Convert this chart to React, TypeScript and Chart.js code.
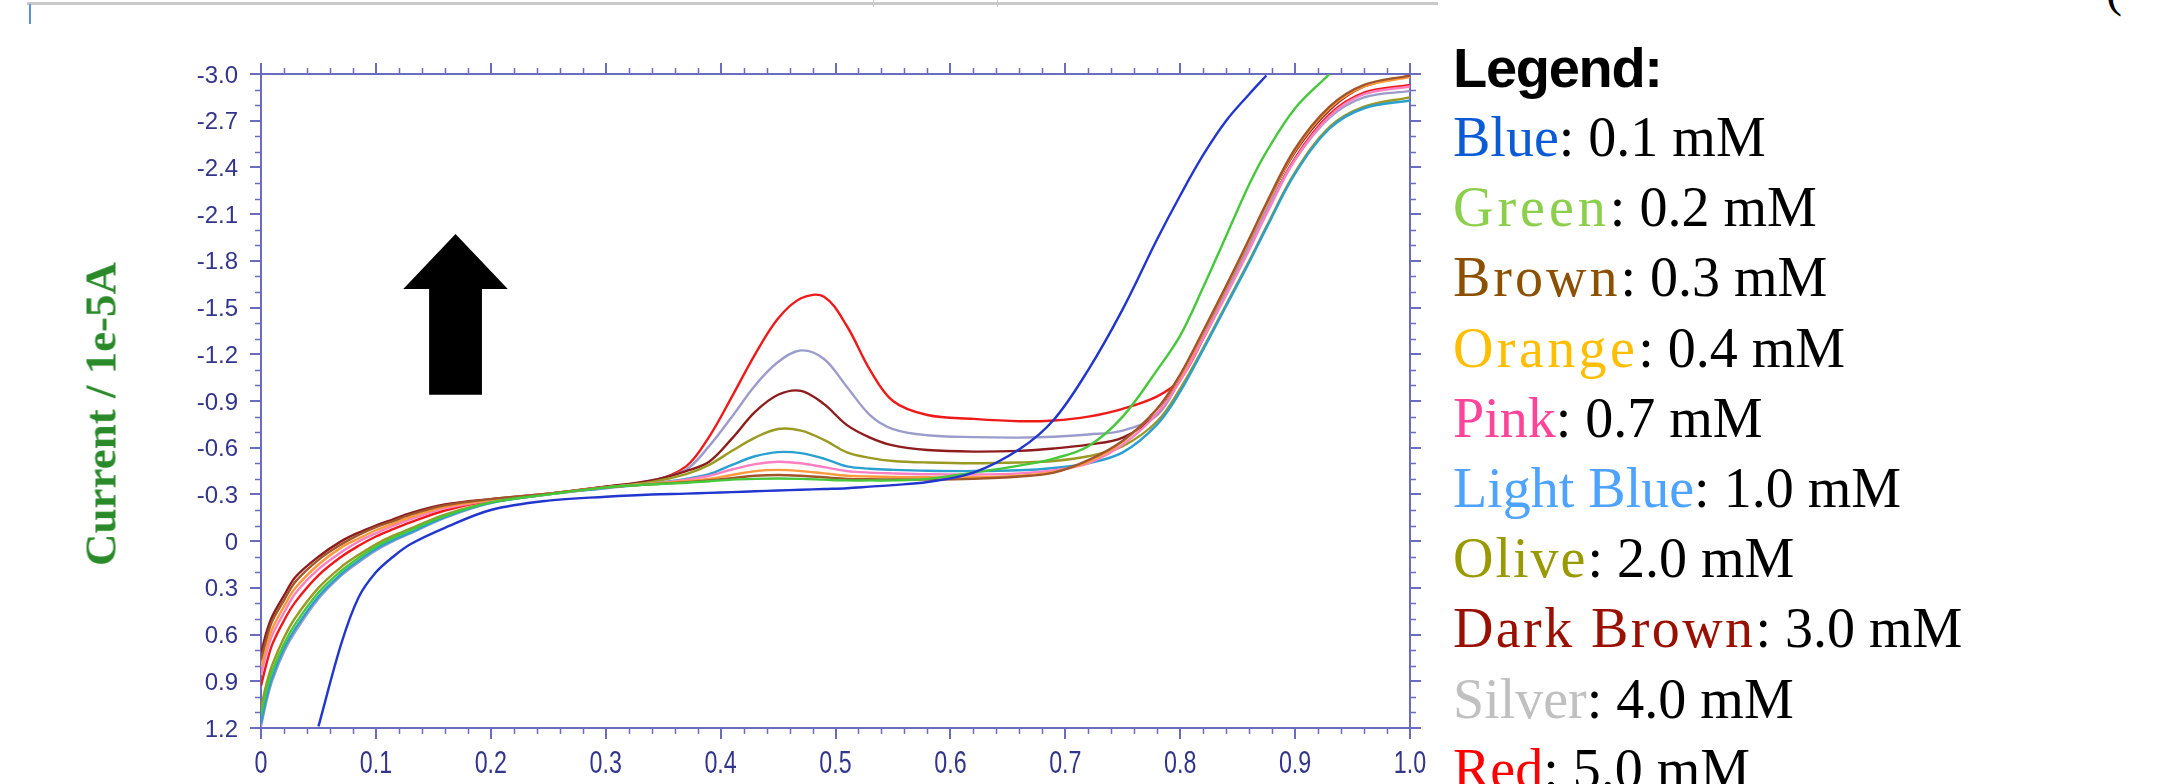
import React, { useEffect, useRef } from 'react';
import { Chart, registerables } from 'chart.js';

Chart.register(...registerables);

// Potential (x axis, V)
const potentials = [
  0, 0.005, 0.01, 0.02, 0.03, 0.05, 0.07, 0.085, 0.1, 0.115, 0.13, 0.16, 0.2, 0.25, 0.3,
  0.34, 0.37, 0.39, 0.41, 0.43, 0.45, 0.47, 0.49, 0.51, 0.53, 0.55, 0.58, 0.62,
  0.66, 0.69, 0.72, 0.75, 0.78, 0.8, 0.82, 0.84, 0.86, 0.875, 0.9, 0.93, 0.96, 1.0,
];

// Current / 1e-5 A, one list per concentration
const blue = [
  null, null, null, null, null, 1.19, 0.655, 0.36, 0.2, 0.1, 0.02, -0.085, -0.2, -0.26, -0.285,
  -0.3, -0.305, -0.31, -0.315, -0.32, -0.325, -0.33, -0.335, -0.34, -0.35, -0.36, -0.38, -0.44,
  -0.59, -0.78, -1.1, -1.49, -1.94, -2.22, -2.48, -2.7, -2.87, -2.99, null, null, null, null,
];
const green = [
  1.12, 0.95, 0.83, 0.66, 0.53, 0.33, 0.19, 0.107, 0.035, -0.021, -0.07, -0.163, -0.249, -0.3, -0.345,
  -0.365, -0.375, -0.385, -0.395, -0.4, -0.402, -0.4, -0.395, -0.39, -0.39, -0.39, -0.4, -0.44,
  -0.485, -0.53, -0.61, -0.8, -1.1, -1.32, -1.63, -1.96, -2.29, -2.5, -2.78, -3.0, null, null,
];
const brown = [
  0.76, 0.62, 0.51, 0.38, 0.26, 0.12, 0.02, -0.04, -0.09, -0.129, -0.17, -0.23, -0.27, -0.305, -0.345,
  -0.365, -0.378, -0.39, -0.405, -0.42, -0.425, -0.42, -0.41, -0.4, -0.398, -0.396, -0.395, -0.4,
  -0.415, -0.44, -0.52, -0.645, -0.85, -1.07, -1.35, -1.64, -1.94, -2.17, -2.52, -2.79, -2.93, -2.99,
];
const orange = [
  0.81, 0.67, 0.56, 0.42, 0.3, 0.15, 0.04, -0.017, -0.07, -0.112, -0.155, -0.22, -0.265, -0.304, -0.345,
  -0.37, -0.385, -0.4, -0.425, -0.45, -0.458, -0.45, -0.435, -0.42, -0.415, -0.412, -0.41, -0.41,
  -0.42, -0.445, -0.51, -0.64, -0.85, -1.06, -1.34, -1.63, -1.93, -2.16, -2.51, -2.78, -2.92, -2.98,
];
const pink = [
  0.86, 0.71, 0.6, 0.46, 0.335, 0.18, 0.07, 0.002, -0.05, -0.098, -0.14, -0.21, -0.263, -0.303, -0.345,
  -0.37, -0.395, -0.42, -0.46, -0.495, -0.51, -0.5, -0.475, -0.45, -0.44, -0.435, -0.43, -0.428,
  -0.435, -0.455, -0.5, -0.62, -0.82, -1.03, -1.3, -1.58, -1.87, -2.1, -2.45, -2.73, -2.87, -2.92,
];
const lightBlue = [
  1.17, 1.0, 0.87, 0.69, 0.56, 0.355, 0.21, 0.125, 0.05, -0.007, -0.055, -0.155, -0.246, -0.3, -0.34,
  -0.37, -0.4, -0.43, -0.49, -0.545, -0.572, -0.565, -0.53, -0.48, -0.465, -0.458, -0.452, -0.45,
  -0.455, -0.47, -0.5, -0.57, -0.75, -0.96, -1.23, -1.51, -1.79, -2.01, -2.36, -2.65, -2.78, -2.83,
];
const olive = [
  1.07, 0.91, 0.79, 0.62, 0.49, 0.3, 0.165, 0.088, 0.02, -0.035, -0.08, -0.17, -0.25, -0.301, -0.345,
  -0.38, -0.43, -0.49, -0.58, -0.665, -0.72, -0.71, -0.65, -0.57, -0.535, -0.515, -0.505, -0.5,
  -0.505, -0.515, -0.545, -0.61, -0.77, -0.98, -1.24, -1.52, -1.8, -2.02, -2.37, -2.66, -2.79, -2.85,
];
const darkBrown = [
  0.72, 0.58, 0.48, 0.35, 0.23, 0.1, 0.0, -0.055, -0.1, -0.14, -0.18, -0.235, -0.27, -0.305, -0.35,
  -0.39, -0.45, -0.51, -0.66, -0.83, -0.94, -0.965, -0.88, -0.745, -0.665, -0.615, -0.585, -0.575,
  -0.58, -0.595, -0.62, -0.665, -0.82, -1.06, -1.34, -1.63, -1.93, -2.16, -2.5, -2.77, -2.92, -2.99,
];
const silver = [
  1.19, 1.02, 0.89, 0.71, 0.58, 0.37, 0.22, 0.135, 0.06, 0.0, -0.05, -0.15, -0.245, -0.3, -0.345,
  -0.39, -0.46, -0.61, -0.8, -1.0, -1.15, -1.225, -1.17, -0.99, -0.81, -0.72, -0.68, -0.668,
  -0.665, -0.67, -0.685, -0.71, -0.81, -1.04, -1.32, -1.6, -1.89, -2.12, -2.45, -2.72, -2.85, -2.89,
];
const red = [
  0.93, 0.78, 0.66, 0.51, 0.39, 0.22, 0.1, 0.03, -0.03, -0.077, -0.12, -0.197, -0.26, -0.303, -0.35,
  -0.385, -0.48, -0.67, -0.93, -1.2, -1.43, -1.56, -1.57, -1.38, -1.1, -0.9, -0.81, -0.785,
  -0.77, -0.775, -0.8, -0.85, -0.93, -1.04, -1.3, -1.6, -1.89, -2.12, -2.46, -2.74, -2.88, -2.93,
];

const legendNames = ['Blue', 'Green', 'Brown', 'Orange', 'Pink', 'Light Blue', 'Olive', 'Dark Brown', 'Silver', 'Red'];
const concentrations = ['0.1 mM', '0.2 mM', '0.3 mM', '0.4 mM', '0.7 mM', '1.0 mM', '2.0 mM', '3.0 mM', '4.0 mM', '5.0 mM'];
const seriesValues = [blue, green, brown, orange, pink, lightBlue, olive, darkBrown, silver, red];
const lineColors = ['#2136cf', '#45c83a', '#a0562a', '#ff9a3c', '#ff7fc0', '#2a9fd0', '#9a9a22', '#8e1c1c', '#9c9ccc', '#ee1a1a'];
const textColors = ['#0b5bd7', '#8ccf4d', '#8b5000', '#ffbf00', '#ff4499', '#4da3ff', '#999900', '#990f00', '#c0c0c0', '#ff0000'];
const nameSpacing = ['0px', '4px', '3px', '3.4px', '0px', '0px', '2px', '2.4px', '0px', '0px'];

const xTicks = [0, 0.1, 0.2, 0.3, 0.4, 0.5, 0.6, 0.7, 0.8, 0.9, 1.0];
const yTicks = [-3.0, -2.7, -2.4, -2.1, -1.8, -1.5, -1.2, -0.9, -0.6, -0.3, 0, 0.3, 0.6, 0.9, 1.2];

// decorative arrow, in data units
const arrowX = 0.1693;
const arrowTip = -1.972;
const arrowHeadBase = -1.619;
const arrowBottom = -0.94;
const arrowHeadHalf = 0.0455;
const arrowShaftHalf = 0.023;

const AXIS = '#6a6dbf';
const LABEL = '#33358a';

const fmt = (v: number) => (Math.abs(v) < 1e-9 ? '0' : v.toFixed(1));

const decorPlugin = {
  id: 'decor',
  afterDraw(chart: any) {
    const { ctx, chartArea: a, scales } = chart;
    const xs = scales.x;
    const ys = scales.y;
    ctx.save();
    // minor ticks
    ctx.strokeStyle = AXIS;
    ctx.lineWidth = 1.5;
    ctx.beginPath();
    for (let i = 1; i < 50; i++) {
      if (i % 5 === 0) continue;
      const px = Math.round(xs.getPixelForValue(i * 0.02)) + 0.5;
      ctx.moveTo(px, a.bottom);
      ctx.lineTo(px, a.bottom + 6);
      ctx.moveTo(px, a.top);
      ctx.lineTo(px, a.top - 6);
    }
    for (let i = 1; i < 42; i++) {
      if (i % 3 === 0) continue;
      const py = Math.round(ys.getPixelForValue(-3 + i * 0.1)) + 0.5;
      ctx.moveTo(a.left, py);
      ctx.lineTo(a.left - 6, py);
      ctx.moveTo(a.right, py);
      ctx.lineTo(a.right + 6, py);
    }
    ctx.stroke();

    // x tick labels (narrow lettering as in the original)
    ctx.fillStyle = LABEL;
    ctx.font = '31px "Liberation Sans", Arial, sans-serif';
    ctx.textAlign = 'center';
    ctx.textBaseline = 'alphabetic';
    xs.ticks.forEach((t: any) => {
      const px = xs.getPixelForValue(t.value);
      ctx.save();
      ctx.translate(px, a.bottom + 45);
      ctx.scale(0.75, 1);
      ctx.fillText(fmt(t.value), 0, 0);
      ctx.restore();
    });

    // big black arrow
    const cx = xs.getPixelForValue(arrowX);
    const hl = xs.getPixelForValue(arrowX - arrowHeadHalf);
    const hr = xs.getPixelForValue(arrowX + arrowHeadHalf);
    const sl = xs.getPixelForValue(arrowX - arrowShaftHalf);
    const sr = xs.getPixelForValue(arrowX + arrowShaftHalf);
    const ty = ys.getPixelForValue(arrowTip);
    const by = ys.getPixelForValue(arrowHeadBase);
    const bot = ys.getPixelForValue(arrowBottom);
    ctx.fillStyle = '#000';
    ctx.beginPath();
    ctx.moveTo(cx, ty);
    ctx.lineTo(hr, by);
    ctx.lineTo(sr, by);
    ctx.lineTo(sr, bot);
    ctx.lineTo(sl, bot);
    ctx.lineTo(sl, by);
    ctx.lineTo(hl, by);
    ctx.closePath();
    ctx.fill();
    ctx.restore();
  },
};

const CANVAS_W = 1440;
const CANVAS_H = 784;

function VoltammogramChart() {
  const ref = useRef<HTMLCanvasElement | null>(null);
  useEffect(() => {
    if (!ref.current) return;
    const gridOpts = {
      drawOnChartArea: false,
      drawTicks: true,
      tickLength: 11,
      color: AXIS,
      tickColor: AXIS,
      lineWidth: 2,
      tickWidth: 2,
    };
    const border = { display: true, color: AXIS, width: 2 };
    const setX = (s: any) => {
      s.ticks = xTicks.map((v) => ({ value: v }));
    };
    const setY = (s: any) => {
      s.ticks = yTicks.map((v) => ({ value: v }));
    };
    const chart = new Chart(ref.current, {
      type: 'line',
      data: {
        datasets: seriesValues.map((vals, k) => ({
          label: legendNames[k],
          data: potentials.map((x, i) => ({ x, y: vals[i] })),
          borderColor: lineColors[k],
          backgroundColor: lineColors[k],
          borderWidth: 2.4,
          pointRadius: 0,
          fill: false,
          tension: 0.35,
          spanGaps: false,
        })),
      },
      options: {
        animation: false,
        responsive: false,
        devicePixelRatio: 1,
        layout: { padding: 0 },
        plugins: {
          legend: { display: false },
          tooltip: { enabled: false },
          title: { display: false },
        },
        scales: {
          x: {
            type: 'linear',
            position: 'bottom',
            min: 0,
            max: 1,
            afterBuildTicks: setX,
            afterFit: (s: any) => {
              s.height = 56;
            },
            ticks: { display: false },
            grid: gridOpts,
            border,
          },
          x2: {
            type: 'linear',
            position: 'top',
            min: 0,
            max: 1,
            afterBuildTicks: setX,
            afterFit: (s: any) => {
              s.height = 74;
            },
            ticks: { display: false },
            grid: gridOpts,
            border,
          },
          y: {
            type: 'linear',
            position: 'left',
            reverse: true,
            min: -3.0,
            max: 1.2,
            afterBuildTicks: setY,
            afterFit: (s: any) => {
              s.width = 261;
            },
            ticks: {
              display: true,
              color: LABEL,
              padding: 12,
              labelOffset: 2,
              font: { family: '"Liberation Sans", Arial, sans-serif', size: 24 },
              callback: (v: any) => fmt(Number(v)),
            },
            grid: gridOpts,
            border,
          },
          y2: {
            type: 'linear',
            position: 'right',
            reverse: true,
            min: -3.0,
            max: 1.2,
            afterBuildTicks: setY,
            afterFit: (s: any) => {
              s.width = CANVAS_W - 1410;
            },
            ticks: { display: false },
            grid: gridOpts,
            border,
          },
        },
      } as any,
      plugins: [decorPlugin],
    });
    return () => chart.destroy();
  }, []);
  return (
    <canvas
      ref={ref}
      width={CANVAS_W}
      height={CANVAS_H}
      style={{ position: 'absolute', left: 0, top: 0, width: CANVAS_W, height: CANVAS_H }}
    />
  );
}

export default function App() {
  return (
    <div
      style={{
        position: 'fixed',
        left: 0,
        top: 0,
        width: 2158,
        height: 784,
        overflow: 'hidden',
        background: '#fff',
      }}
    >
      {/* cropped screenshot remnants at the top */}
      <div style={{ position: 'absolute', left: 27, top: 2, width: 1411, height: 3, background: '#c9c9c9' }} />
      <div style={{ position: 'absolute', left: 873, top: 0, width: 1, height: 7, background: '#c9c9c9' }} />
      <div style={{ position: 'absolute', left: 997, top: 0, width: 1, height: 7, background: '#c9c9c9' }} />
      <div style={{ position: 'absolute', left: 29, top: 4, width: 2, height: 20, background: '#5b8fd8' }} />
      <div
        style={{
          position: 'absolute',
          left: 2106,
          top: -34,
          fontFamily: '"Liberation Serif", serif',
          fontSize: 48,
          lineHeight: 1,
          color: '#000',
        }}
      >
        (
      </div>

      <VoltammogramChart />

      <div
        style={{
          position: 'absolute',
          left: 101,
          top: 414,
          transform: 'translate(-50%, -50%) rotate(-90deg)',
          fontFamily: '"Liberation Serif", "Times New Roman", serif',
          fontWeight: 'bold',
          fontSize: 45,
          lineHeight: 1,
          color: '#2a8a2a',
          whiteSpace: 'nowrap',
        }}
      >
        Current / 1e-5A
      </div>

      <div
        style={{
          position: 'absolute',
          left: 1453,
          top: 39.6,
          fontFamily: '"Liberation Sans", Arial, sans-serif',
          fontWeight: 'bold',
          fontSize: 56,
          lineHeight: 1,
          letterSpacing: '-1.3px',
          color: '#000',
          whiteSpace: 'nowrap',
        }}
      >
        Legend:
      </div>
      <div
        style={{
          position: 'absolute',
          left: 1453,
          top: 102,
          fontFamily: '"Liberation Serif", "Times New Roman", serif',
          fontSize: 56,
          lineHeight: '70.2px',
          color: '#000',
          whiteSpace: 'nowrap',
        }}
      >
        {legendNames.map((name, k) => (
          <div key={name}>
            <span style={{ color: textColors[k], letterSpacing: nameSpacing[k] }}>{name}</span>: {concentrations[k]}
          </div>
        ))}
      </div>
    </div>
  );
}
